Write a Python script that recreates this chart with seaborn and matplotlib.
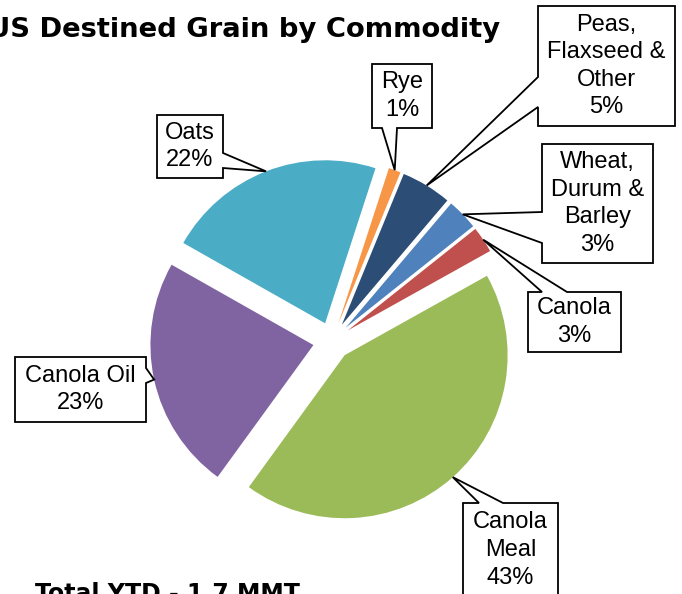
import matplotlib
matplotlib.use("Agg")
import matplotlib.pyplot as plt
from matplotlib.patches import Polygon
import numpy as np
import seaborn as sns

# shares of US destined grain by commodity (%), clockwise from Rye
commodities = ["Rye", "Peas,\nFlaxseed &\nOther", "Wheat,\nDurum &\nBarley", "Canola",
               "Canola\nMeal", "Canola Oil", "Oats"]
shares = [1.2, 5.0, 3.1, 2.6, 43.1, 23.2, 21.8]
hex_colors = ["#F79646", "#2C4D75", "#4F81BD", "#C0504D", "#9BBB59", "#8064A2", "#4BACC6"]

W, H = 682, 594

# callout boxes in image pixels (x0, y0, x1, y1), side where the pointer leaves, pointer base
callouts = [
    ((372, 64, 432, 128), "bottom", (382, 397)),
    ((538, 6, 675, 126), "left", (77, 107)),
    ((542, 144, 653, 263), "left", (212, 243)),
    ((528, 292, 621, 352), "top", (542, 567)),
    ((463, 503, 558, 612), "top", (479, 503)),
    ((15, 357, 146, 422), "right", (368, 383)),
    ((157, 115, 223, 178), "right", (153, 168)),
]

sns.set_theme(style="white")
plt.rcParams['font.family'] = ['Liberation Sans', 'DejaVu Sans']

fig = plt.figure(figsize=(W / 100, H / 100), dpi=100)
ax = fig.add_axes([0, 0, 1, 1])

radius = 163
center = (332, H - 341)
wedges, _ = ax.pie(shares, colors=sns.color_palette(hex_colors), startangle=72,
                   counterclock=False, radius=radius, center=center,
                   explode=[19] * len(shares), wedgeprops=dict(linewidth=0))
ax.set_xlim(0, W)
ax.set_ylim(0, H)
ax.set_aspect('equal')
ax.axis('off')


def img(x, y):
    return (x, H - y)


for wedge, name, share, (box, side, base) in zip(wedges, commodities, shares, callouts):
    # pointer tip sits on the outer arc at the middle of the slice
    mid = np.deg2rad((wedge.theta1 + wedge.theta2) / 2)
    cx, cy = wedge.center
    tip = (cx + wedge.r * np.cos(mid), H - (cy + wedge.r * np.sin(mid)))
    x0, y0, x1, y1 = box
    a, b = base
    pts = [(x0, y0)]
    if side == "top":
        pts += [(a, y0), tip, (b, y0)]
    pts += [(x1, y0)]
    if side == "right":
        pts += [(x1, a), tip, (x1, b)]
    pts += [(x1, y1)]
    if side == "bottom":
        pts += [(b, y1), tip, (a, y1)]
    pts += [(x0, y1)]
    if side == "left":
        pts += [(x0, b), tip, (x0, a)]
    poly = Polygon([img(px, py) for px, py in pts], closed=True, facecolor="white",
                   edgecolor="black", linewidth=1.3, joinstyle="miter", zorder=3)
    ax.add_patch(poly)
    label = f"{name}\n{round(share)}%"
    tx, ty = (x0 + x1) / 2, (y0 + min(y1, 597)) / 2
    if name == "Canola\nMeal":
        ty = 550
    ax.text(*img(tx, ty), label, ha="center", va="center", fontsize=17,
            linespacing=1.33, color="black", zorder=4)

fig.text(500 / W, (H - 37) / H, "US Destined Grain by Commodity", ha="right",
         va="baseline", fontsize=19.7, fontweight="bold", family="DejaVu Sans",
         color="black")
fig.text(35 / W, (H - 601) / H, "Total YTD - 1.7 MMT", ha="left", va="baseline",
         fontsize=17, fontweight="bold", family="DejaVu Sans", color="black")

fig.savefig("out.png", dpi=100)
